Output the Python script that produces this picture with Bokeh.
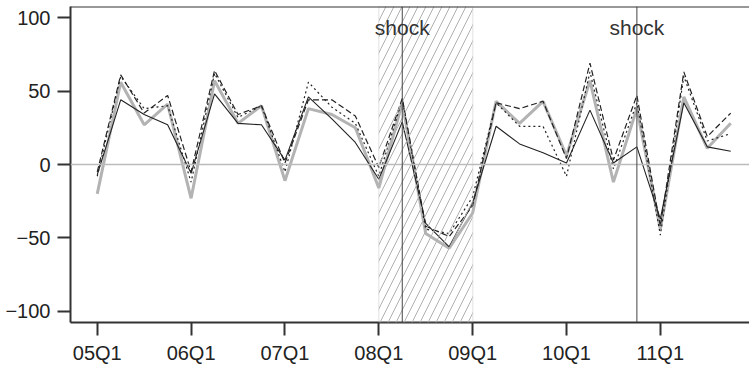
from bokeh.plotting import figure
from bokeh.models import Range1d, Span, Label, FixedTicker, BoxAnnotation
from bokeh.embed import file_html
from bokeh.resources import INLINE

quarters = ["05Q1", "05Q2", "05Q3", "05Q4", "06Q1", "06Q2", "06Q3", "06Q4",
            "07Q1", "07Q2", "07Q3", "07Q4", "08Q1", "08Q2", "08Q3", "08Q4",
            "09Q1", "09Q2", "09Q3", "09Q4", "10Q1", "10Q2", "10Q3", "10Q4",
            "11Q1", "11Q2", "11Q3", "11Q4"]
tick_labels = ["05Q1", "06Q1", "07Q1", "08Q1", "09Q1", "10Q1", "11Q1"]
y_ticks = [-100, -50, 0, 50, 100]

series_solid = [-7, 44, 34, 27, -6, 48, 28, 27, 3, 46, 31, 15, -10, 29,
                -40, -56, -26, 26, 14, 8, 1, 37, 1, 12, -37, 42, 12, 9]
series_dashed = [-5, 61, 35, 47, -5, 64, 34, 40, 1, 44, 44, 33, -2, 45,
                 -42, -49, -28, 42, 38, 43, 4, 69, 3, 47, -42, 63, 19, 35]
series_dotted = [-8, 60, 38, 40, -12, 62, 32, 40, -5, 56, 39, 28, -8, 44,
                 -44, -47, -22, 42, 26, 26, -8, 63, -3, 42, -48, 60, 16, 21]
series_gray = [-20, 56, 27, 41, -23, 57, 28, 40, -11, 38, 34, 25, -16, 42,
               -47, -57, -33, 43, 28, 43, 6, 57, -12, 38, -44, 46, 11, 28]

shade_start, shade_end = "08Q1", "09Q1"
shock_quarters = ["08Q2", "10Q4"]
shock_text = "shock"

x = list(range(len(quarters)))

p = figure(width=749, height=366, output_backend="svg", toolbar_location=None,
           x_range=Range1d(-1.14, 27.8), y_range=Range1d(-107.5, 107.5),
           min_border_left=70, min_border_right=0, min_border_top=6,
           min_border_bottom=43)
p.outline_line_color = None
p.background_fill_color = "white"
p.border_fill_color = "white"
p.grid.visible = False

axis_font = "Liberation Sans"
for ax in (p.xaxis[0], p.yaxis[0]):
    ax.axis_line_color = "#333333"
    ax.axis_line_width = 2
    ax.major_tick_line_color = "#333333"
    ax.major_tick_line_width = 2
    ax.major_tick_out = 13
    ax.major_tick_in = 0
    ax.minor_tick_line_color = None
    ax.major_label_text_font = axis_font
    ax.major_label_text_font_size = "20px"
    ax.major_label_text_color = "#222222"

p.xaxis[0].ticker = FixedTicker(ticks=[quarters.index(t) for t in tick_labels])
p.xaxis[0].major_label_overrides = {quarters.index(t): t for t in tick_labels}
p.xaxis[0].major_label_standoff = 6
p.yaxis[0].ticker = FixedTicker(ticks=y_ticks)
p.yaxis[0].major_label_standoff = 7

# shaded hatched period
box = BoxAnnotation(left=quarters.index(shade_start), right=quarters.index(shade_end),
                    fill_color=None, fill_alpha=0,
                    hatch_pattern="/", hatch_color="#b0b0b0", hatch_scale=16,
                    hatch_weight=1, line_color="#bbbbbb", line_width=1.5)
p.add_layout(box)

p.add_layout(Span(location=0, dimension="width", line_color="#bbbbbb", line_width=1.5))
p.add_layout(Span(location=p.y_range.end, dimension="width", line_color="#333333", line_width=2))

for sq in shock_quarters:
    p.add_layout(Span(location=quarters.index(sq), dimension="height",
                      line_color="#444444", line_width=1))
    p.add_layout(Label(x=quarters.index(sq), y=295, y_units="screen", text=shock_text,
                       text_align="center", text_baseline="alphabetic",
                       text_font="Liberation Sans", text_font_size="21px",
                       text_color="#333333"))

p.line(x, series_gray, line_color="#b3b3b3", line_width=3)
p.line(x, series_solid, line_color="#222222", line_width=1.1)
p.line(x, series_dashed, line_color="#222222", line_width=1.2, line_dash="6 3")
p.line(x, series_dotted, line_color="#222222", line_width=1.2, line_dash="2 3")

open("out.html", "w").write(file_html(p, INLINE))
